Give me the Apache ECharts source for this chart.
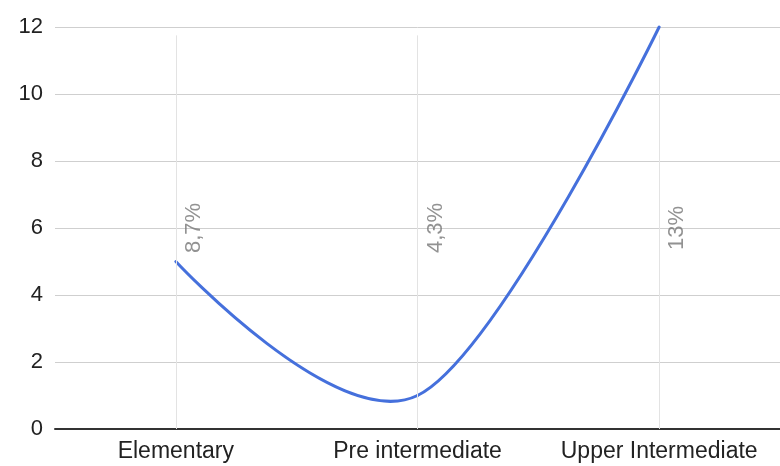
<!DOCTYPE html>
<html>
<head>
<meta charset="utf-8">
<script src="https://cdn.jsdelivr.net/npm/echarts@6/dist/echarts.min.js"></script>
<style>
  html, body { margin: 0; padding: 0; background: #fff; }
  #chart { width: 780px; height: 466px; }
</style>
</head>
<body>
<div id="chart"></div>
<script>
// Levels and their scores
const categories = ['Elementary', 'Pre intermediate', 'Upper Intermediate'];
const scores = [5, 1, 12];
// Share annotations shown beside each level
const shares = ['8,7%', '4,3%', '13%'];
// Value-axis ticks
const yTicks = [0, 2, 4, 6, 8, 10, 12];

const FONT = '"Liberation Sans", Arial, sans-serif';
const annotationLevel = 6;
const LINE_COLOR = '#4570dc';
// Catmull-Rom style tension for the curve through the points
const TENSION = 1 / 6;

const chart = echarts.init(document.getElementById('chart'), null, { renderer: 'canvas' });

// Draws the smooth segment from point i to point i+1, with tangents taken
// from the neighbouring points (end points keep their own position as control).
function renderCurveSegment(params, api) {
  const i = params.dataIndex;
  if (i >= scores.length - 1) return null;
  const pt = k => api.coord([k, scores[k]]);
  const p0 = pt(i);
  const p1 = pt(i + 1);
  const prev = i > 0 ? pt(i - 1) : p0;
  const next = i + 2 < scores.length ? pt(i + 2) : p1;
  const c1 = i > 0
    ? [p0[0] + (p1[0] - prev[0]) * TENSION, p0[1] + (p1[1] - prev[1]) * TENSION]
    : p0;
  const c2 = i + 2 < scores.length
    ? [p1[0] - (next[0] - p0[0]) * TENSION, p1[1] - (next[1] - p0[1]) * TENSION]
    : p1;
  return {
    type: 'bezierCurve',
    shape: {
      x1: p0[0], y1: p0[1],
      cpx1: c1[0], cpy1: c1[1],
      cpx2: c2[0], cpy2: c2[1],
      x2: p1[0], y2: p1[1]
    },
    style: { stroke: LINE_COLOR, lineWidth: 3, fill: null, lineCap: 'round' }
  };
}

chart.setOption({
  animation: false,
  backgroundColor: '#ffffff',
  grid: { left: 55, right: -5, top: 27, bottom: 37, containLabel: false },
  xAxis: {
    type: 'category',
    data: categories,
    boundaryGap: true,
    axisLine: { show: true, lineStyle: { color: '#333333', width: 2 } },
    axisTick: { show: false },
    splitLine: { show: false },
    axisLabel: {
      color: '#222222', fontFamily: FONT, fontSize: 23, margin: 11,
      interval: 0
    }
  },
  yAxis: {
    type: 'value',
    min: yTicks[0],
    max: yTicks[yTicks.length - 1],
    interval: yTicks[1] - yTicks[0],
    axisLine: { show: false },
    axisTick: { show: false },
    splitLine: { show: true, lineStyle: { color: '#cfcfcf', width: 1 } },
    axisLabel: { color: '#222222', fontFamily: FONT, fontSize: 22, margin: 12 }
  },
  series: [
    {
      // vertical guides at each level plus the rotated share annotations
      type: 'scatter',
      z: 1,
      silent: true,
      symbolSize: 0,
      data: categories.map((c, i) => [i, annotationLevel]),
      label: {
        show: true,
        position: 'inside',
        rotate: 90,
        offset: [0, 18],
        color: '#777777',
        fontFamily: FONT,
        fontSize: 22,
        formatter: p => shares[p.dataIndex]
      },
      markLine: {
        silent: true,
        symbol: ['none', 'none'],
        label: { show: false },
        lineStyle: { color: '#e3e3e3', width: 1, type: 'solid' },
        data: categories.map(c => [
          { coord: [c, yTicks[yTicks.length - 1] - 0.25] },
          { coord: [c, yTicks[0]] }
        ])
      }
    },
    {
      type: 'custom',
      z: 3,
      silent: true,
      data: scores.map((v, i) => [i, v]),
      encode: { x: 0, y: 1 },
      renderItem: renderCurveSegment
    }
  ]
});
</script>
</body>
</html>
